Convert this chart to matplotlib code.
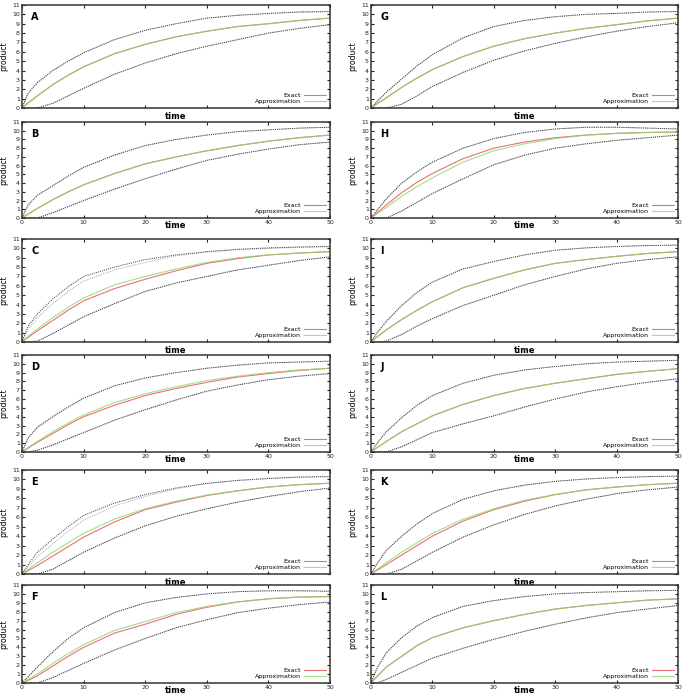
import numpy as np
import matplotlib
matplotlib.use("Agg")
import matplotlib.pyplot as plt

# sample times
t = [0, 1, 2.5, 5, 7.5, 10, 15, 20, 25, 30, 35, 40, 45, 50]

# A
exact_A = [0, 0.55, 1.3, 2.5, 3.5, 4.4, 5.8, 6.8, 7.6, 8.2, 8.7, 9.0, 9.35, 9.6]
approx_A = [0, 0.55, 1.3, 2.5, 3.5, 4.4, 5.8, 6.8, 7.6, 8.2, 8.7, 9.0, 9.35, 9.6]
upper_A = [0, 1.6, 2.7, 4.0, 5.0, 5.9, 7.3, 8.3, 9.0, 9.6, 9.9, 10.1, 10.25, 10.3]
lower_A = [0, 0, 0, 0.5, 1.3, 2.1, 3.6, 4.8, 5.8, 6.6, 7.3, 8.0, 8.5, 8.9]
# B
exact_B = [0, 0.45, 1.1, 2.1, 3.0, 3.8, 5.1, 6.2, 7.0, 7.7, 8.3, 8.8, 9.2, 9.5]
approx_B = [0, 0.45, 1.1, 2.1, 3.0, 3.8, 5.1, 6.2, 7.0, 7.7, 8.3, 8.8, 9.2, 9.5]
upper_B = [0, 1.5, 2.6, 3.7, 4.8, 5.8, 7.2, 8.3, 9.0, 9.5, 9.9, 10.1, 10.3, 10.4]
lower_B = [0, 0, 0, 0.6, 1.3, 2.0, 3.3, 4.5, 5.6, 6.6, 7.3, 7.9, 8.4, 8.7]
# C
exact_C = [0, 0.5, 1.2, 2.3, 3.4, 4.4, 5.7, 6.7, 7.6, 8.4, 8.9, 9.3, 9.5, 9.65]
approx_C = [0, 0.6, 1.4, 2.6, 3.7, 4.7, 6.1, 7.0, 7.8, 8.5, 9.0, 9.3, 9.5, 9.65]
upper_C = [0, 1.7, 3.0, 4.6, 5.9, 7.0, 8.0, 8.8, 9.3, 9.65, 9.9, 10.05, 10.15, 10.2]
upper2_C = [0, 1.4, 2.6, 4.1, 5.4, 6.5, 7.7, 8.5, 9.2, 9.6, 9.85, 10.0, 10.1, 10.2]
lower_C = [0, 0, 0.1, 0.9, 1.8, 2.7, 4.1, 5.4, 6.3, 7.0, 7.7, 8.2, 8.7, 9.1]
# D
exact_D = [0, 0.45, 1.1, 2.1, 3.1, 4.0, 5.3, 6.4, 7.2, 7.9, 8.5, 8.9, 9.25, 9.5]
approx_D = [0, 0.5, 1.2, 2.3, 3.3, 4.2, 5.6, 6.6, 7.4, 8.1, 8.6, 9.0, 9.3, 9.5]
upper_D = [0, 1.6, 2.8, 4.0, 5.1, 6.1, 7.5, 8.4, 9.0, 9.5, 9.85, 10.1, 10.2, 10.3]
lower_D = [0, 0, 0.2, 0.8, 1.5, 2.2, 3.6, 4.8, 5.9, 6.9, 7.6, 8.2, 8.6, 8.9]
# E
exact_E = [0, 0.35, 0.9, 1.9, 2.9, 3.9, 5.5, 6.8, 7.6, 8.3, 8.8, 9.2, 9.45, 9.6]
approx_E = [0, 0.5, 1.2, 2.3, 3.3, 4.3, 5.8, 6.9, 7.7, 8.35, 8.8, 9.2, 9.45, 9.6]
upper_E = [0, 1.0, 2.3, 3.7, 5.0, 6.2, 7.5, 8.4, 9.1, 9.6, 9.9, 10.1, 10.25, 10.3]
upper2_E = [0, 0.8, 1.8, 3.2, 4.5, 5.7, 7.2, 8.2, 9.0, 9.55, 9.9, 10.1, 10.25, 10.3]
lower_E = [0, 0, 0, 0.5, 1.4, 2.3, 3.8, 5.1, 6.1, 6.9, 7.6, 8.2, 8.7, 9.1]
# F
exact_F = [0, 0.3, 0.8, 1.9, 3.0, 4.0, 5.6, 6.6, 7.7, 8.5, 9.1, 9.45, 9.65, 9.7]
approx_F = [0, 0.4, 1.0, 2.2, 3.3, 4.3, 5.9, 6.9, 7.9, 8.6, 9.1, 9.45, 9.65, 9.7]
upper_F = [0, 0.7, 1.8, 3.5, 5.0, 6.2, 7.9, 9.0, 9.6, 10.0, 10.25, 10.35, 10.35, 10.3]
lower_F = [0, 0, 0, 0.6, 1.4, 2.2, 3.7, 5.0, 6.2, 7.1, 7.9, 8.4, 8.8, 9.1]
# G
exact_G = [0, 0.45, 1.1, 2.2, 3.2, 4.1, 5.5, 6.6, 7.4, 8.0, 8.5, 8.9, 9.3, 9.6]
approx_G = [0, 0.45, 1.1, 2.2, 3.2, 4.1, 5.5, 6.6, 7.4, 8.0, 8.5, 8.9, 9.3, 9.6]
upper_G = [0, 0.7, 1.7, 3.1, 4.5, 5.7, 7.5, 8.7, 9.35, 9.75, 10.0, 10.1, 10.25, 10.3]
lower_G = [0, 0, 0, 0.4, 1.3, 2.3, 3.8, 5.1, 6.1, 6.9, 7.6, 8.2, 8.7, 9.1]
# H
exact_H = [0, 0.6, 1.5, 2.9, 4.1, 5.1, 6.8, 8.0, 8.7, 9.2, 9.5, 9.7, 9.8, 9.85]
approx_H = [0, 0.5, 1.2, 2.5, 3.6, 4.6, 6.4, 7.7, 8.5, 9.1, 9.5, 9.7, 9.8, 9.85]
upper_H = [0, 0.9, 2.2, 4.0, 5.3, 6.4, 8.0, 9.1, 9.8, 10.2, 10.4, 10.4, 10.3, 10.2]
lower_H = [0, 0, 0, 0.8, 1.8, 2.8, 4.5, 6.1, 7.2, 8.0, 8.5, 8.9, 9.2, 9.5]
# I
exact_I = [0, 0.55, 1.3, 2.4, 3.4, 4.3, 5.8, 6.8, 7.7, 8.4, 8.8, 9.15, 9.45, 9.65]
approx_I = [0, 0.55, 1.3, 2.4, 3.4, 4.3, 5.8, 6.8, 7.7, 8.4, 8.8, 9.15, 9.45, 9.65]
upper_I = [0, 1.0, 2.2, 3.9, 5.3, 6.4, 7.8, 8.6, 9.3, 9.8, 10.05, 10.2, 10.3, 10.35]
lower_I = [0, 0, 0.1, 0.8, 1.7, 2.5, 3.9, 5.0, 6.1, 7.0, 7.8, 8.4, 8.8, 9.1]
# J
exact_J = [0, 0.5, 1.2, 2.3, 3.2, 4.1, 5.4, 6.4, 7.2, 7.8, 8.3, 8.8, 9.15, 9.45]
approx_J = [0, 0.5, 1.2, 2.3, 3.2, 4.1, 5.4, 6.4, 7.2, 7.8, 8.3, 8.8, 9.15, 9.45]
upper_J = [0, 1.0, 2.3, 3.9, 5.3, 6.4, 7.8, 8.7, 9.3, 9.7, 10.0, 10.2, 10.3, 10.4]
lower_J = [0, 0, 0, 0.6, 1.4, 2.2, 3.2, 4.1, 5.1, 6.0, 6.8, 7.4, 7.9, 8.3]
# K
exact_K = [0, 0.4, 1.0, 2.0, 3.0, 4.0, 5.6, 6.8, 7.7, 8.4, 8.9, 9.2, 9.45, 9.6]
approx_K = [0, 0.5, 1.2, 2.3, 3.3, 4.3, 5.8, 6.9, 7.8, 8.4, 8.9, 9.2, 9.45, 9.6]
upper_K = [0, 1.1, 2.5, 4.0, 5.3, 6.4, 7.9, 8.8, 9.4, 9.8, 10.05, 10.2, 10.3, 10.35]
lower_K = [0, 0, 0, 0.5, 1.4, 2.3, 3.9, 5.2, 6.3, 7.2, 7.9, 8.5, 8.9, 9.2]
# L
exact_L = [0, 0.75, 1.8, 3.0, 4.2, 5.1, 6.2, 7.0, 7.7, 8.3, 8.7, 9.0, 9.3, 9.45]
approx_L = [0, 0.75, 1.8, 3.0, 4.2, 5.1, 6.2, 7.0, 7.7, 8.3, 8.7, 9.0, 9.3, 9.45]
upper_L = [0, 1.7, 3.4, 5.1, 6.4, 7.35, 8.6, 9.25, 9.7, 10.0, 10.15, 10.25, 10.35, 10.4]
lower_L = [0, 0, 0.4, 1.2, 2.0, 2.8, 3.9, 4.9, 5.8, 6.6, 7.3, 7.9, 8.3, 8.7]

panels = [
    ("A", exact_A, approx_A, upper_A, upper_A, lower_A),
    ("B", exact_B, approx_B, upper_B, upper_B, lower_B),
    ("C", exact_C, approx_C, upper_C, upper2_C, lower_C),
    ("D", exact_D, approx_D, upper_D, upper_D, lower_D),
    ("E", exact_E, approx_E, upper_E, upper2_E, lower_E),
    ("F", exact_F, approx_F, upper_F, upper_F, lower_F),
    ("G", exact_G, approx_G, upper_G, upper_G, lower_G),
    ("H", exact_H, approx_H, upper_H, upper_H, lower_H),
    ("I", exact_I, approx_I, upper_I, upper_I, lower_I),
    ("J", exact_J, approx_J, upper_J, upper_J, lower_J),
    ("K", exact_K, approx_K, upper_K, upper_K, lower_K),
    ("L", exact_L, approx_L, upper_L, upper_L, lower_L),
]

W, H = 686, 697
fig = plt.figure(figsize=(W / 100, H / 100), dpi=100)

# pixel rows (top, bottom) and column lefts
rows = [(5, 108), (122, 218), (239, 342), (355, 452), (470, 574), (585, 683)]
cols = [(22, 330), (371, 678)]

for k, (name, ex, ap, up, up2, lo) in enumerate(panels):
    c, r = divmod(k, 6)
    x0, x1 = cols[c]
    y0, y1 = rows[r]
    ax = fig.add_axes([x0 / W, 1 - y1 / H, (x1 - x0) / W, (y1 - y0) / H])

    ax.plot(t, up2, color="#aaaaaa", lw=0.7, ls=(0, (1, 1)))
    ax.plot(t, lo, color="#aaaaaa", lw=0.7, ls=(0, (1, 1)))
    ax.plot(t, up, color="#333333", lw=0.7, ls=(0, (1, 1.2)))
    ax.plot(t, lo, color="#333333", lw=0.7, ls=(0, (1, 1.2)))
    ax.plot(t, ex, color="#ee7070", lw=0.8, label="Exact")
    ax.plot(t, ap, color="#88d870", lw=0.8, alpha=0.8, label="Approximation")

    ax.set_xlim(0, 50)
    ax.set_ylim(0, 11)
    ax.set_yticks(range(12))
    ax.set_xticks(range(0, 51, 10))
    ax.tick_params(direction="in", length=2.5, width=0.8, top=True, right=True,
                   labelsize=4.5, pad=1.5, colors="#222222")
    if r % 2 == 0:
        ax.tick_params(labelbottom=False)
    for s in ax.spines.values():
        s.set_linewidth(1.1)
        s.set_color("#333333")

    ax.set_ylabel("product", fontsize=5.5)
    ax.yaxis.set_label_coords(-0.045, 0.5)
    ax.set_xlabel("time", fontsize=6, fontweight="bold")
    ax.xaxis.set_label_coords(0.5, -0.035)

    ax.text(0.03, 0.93, name, transform=ax.transAxes, fontsize=7,
            fontweight="bold", va="top", ha="left")
    ax.legend(loc="lower right", markerfirst=False, frameon=False, fontsize=4.5,
              handlelength=3.5, labelspacing=0.15, borderaxespad=0.2,
              handletextpad=0.6)

fig.savefig("out.png", dpi=100)
